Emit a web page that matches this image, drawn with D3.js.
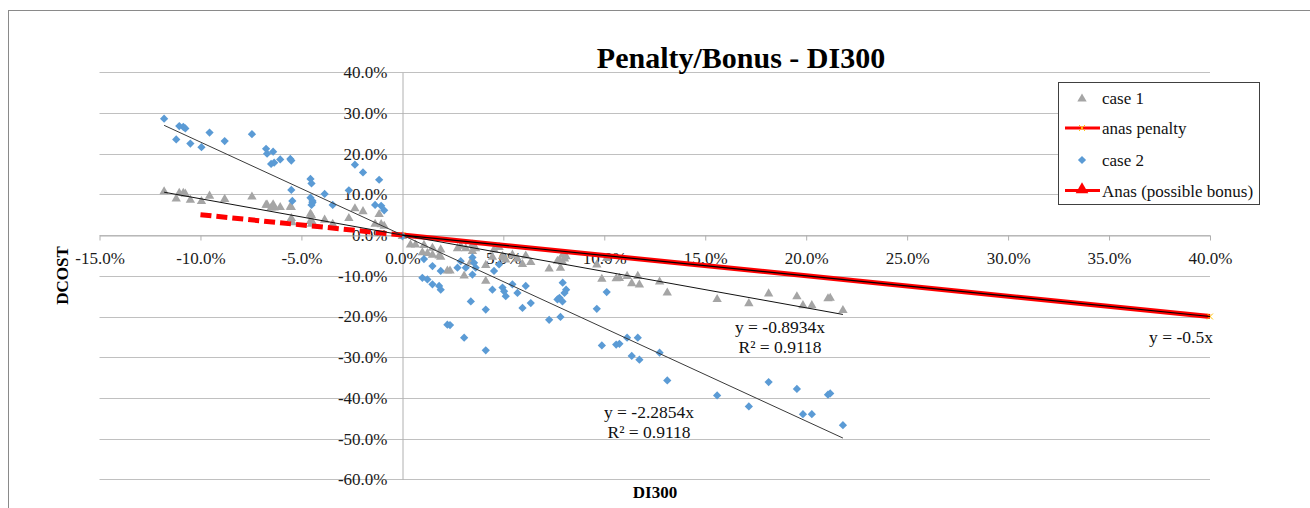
<!DOCTYPE html>
<html>
<head>
<meta charset="utf-8">
<script src="https://cdn.jsdelivr.net/npm/d3@7"></script>
<style>
  html, body { margin: 0; padding: 0; background: #fff; }
  svg { display: block; font-family: "Liberation Serif", "Times New Roman", serif; }
</style>
</head>
<body>
<svg id="chart" width="1310" height="508"></svg>
<script>
// DI300 (%) shared by both cases
const di300 = [
  -11.8, -11.2, -11.05, -10.85, -10.75, -10.5, -9.95, -9.55, -8.8, -7.45,
  -6.75, -6.7, -6.4, -6.5, -6.35, -6.05, -5.55, -5.5, -5.5, -5.45,
  -4.55, -4.5, -4.55, -4.45, -4.5, -4.45, -3.85, -3.45, -2.65, -2.35,
  -1.95, -1.15, -1.35, -1.05, -0.9, 0.0,
  0.4, 0.65, 1.07, 0.99, 1.24, 1.49, 1.49, 1.82, 1.9, 1.9,
  2.23, 2.36, 2.73, 2.89, 3.06, 3.14, 3.39, 3.47, 3.55, 3.63,
  3.47, 4.13, 4.13, 4.54, 4.46, 4.79, 4.96, 5.04, 5.12, 5.45,
  5.7, 6.11, 5.95, 6.36, 7.27, 7.68,
  7.94, 8.11, 8.03, 7.78, 7.83, 7.93, 9.63, 10.12, 9.88, 10.59,
  10.75, 11.13, 11.66, 11.36, 11.74, 12.74, 13.12, 15.59, 17.16, 18.14,
  19.54, 19.84, 20.28, 21.08, 21.19, 21.82
];

// DCOST (%) for case 1
const case1 = [
  10.9, 9.1, 10.5, 10.5, 10.3, 8.8, 8.5, 9.8, 9.0, 9.6,
  7.6, 7.6, 7.7, 6.9, 6.9, 7.0, 7.1, 7.0, 4.3, 3.3,
  5.4, 5.0, 3.6, 3.1, 2.9, 3.3, 3.9, 2.9, 4.3, 6.7,
  6.0, 5.3, 2.9, 2.8, 2.4, -0.1,
  -2.2, -2.2, -2.3, -4.1, -4.3, -3.0, -4.7, -4.9, -5.2, -3.4,
  -8.6, -8.6, -3.1, -2.5, -9.8, -3.1, -6.4, -2.2, -2.7, -3.1,
  -3.8, -7.2, -11.1, -3.4, -5.2, -2.8, -5.0, -5.4, -5.9, -4.7,
  -5.6, -4.9, -7.0, -6.5, -8.1, -6.2,
  -4.7, -5.1, -5.6, -6.0, -7.9, -6.4, -7.1, -5.5, -10.6, -10.5,
  -10.4, -9.9, -9.9, -11.7, -12.0, -11.3, -14.0, -15.6, -16.6, -14.2,
  -14.9, -17.1, -17.1, -15.4, -15.3, -18.3
];

// DCOST (%) for case 2 (null where no point is plotted)
const case2 = [
  28.6, 23.5, 26.8, 26.6, 26.2, 22.5, 21.6, 25.2, 23.1, 24.8,
  21.2, 20.0, 20.5, 17.5, 17.8, 18.6, 18.7, 18.3, 11.1, 8.4,
  13.8, 12.7, 9.2, 8.0, 7.4, 8.4, 10.1, 7.4, 11.0, 17.3,
  15.4, 13.6, 7.4, 7.2, 6.1, -0.25,
  null, null, -5.9, -10.5, -10.9, -7.6, -12.1, -12.5, -13.4, -8.8,
  -22.0, -22.1, -8.0, -6.4, -25.2, -8.0, -16.3, -5.5, -6.8, -8.0,
  -9.7, -18.3, -28.3, -8.8, -13.4, -7.2, -12.9, -13.8, -15.0, -12.1,
  -14.2, -12.5, -17.9, -16.7, -20.8, -15.8,
  -11.7, -13.4, -14.2, -15.4, -20.1, -16.3, -18.1, -14.0, -27.1, -26.9,
  -26.7, -25.2, -25.2, -29.7, -30.6, -28.9, -35.7, -39.4, -42.1, -36.1,
  -37.8, -44.0, -44.0, -39.2, -38.9, -46.7
];

// Anas reference lines
const anasPenaltyX = [0, 40];
const anasPenaltyY = [0, -20];
const anasBonusX = [-10, 0];
const anasBonusY = [5, 0];

// Linear trendlines through the origin
const case1Slope = -0.8934;
const case2Slope = -2.2854;
const penaltySlope = -0.5;
const rSquared = 0.9118;

// Axis ticks
const xTicks = [-15, -10, -5, 0, 5, 10, 15, 20, 25, 30, 35, 40];
const yTicks = [40, 30, 20, 10, 0, -10, -20, -30, -40, -50, -60];

const fmt = d => d.toFixed(1) + "%";

const svg = d3.select("#chart");

// chart area frame
svg.append("rect")
  .attr("x", 8.5).attr("y", 10.5)
  .attr("width", 1400).attr("height", 600)
  .attr("fill", "#fff").attr("stroke", "#8a8a8a").attr("stroke-width", 1);

const x = d3.scaleLinear().domain([-15, 40]).range([99.5, 1210]);
const y = d3.scaleLinear().domain([40, -60]).range([72.3, 479.3]);

const gridColor = "#c0c0c0";

// horizontal gridlines
svg.append("g")
  .selectAll("line")
  .data(yTicks)
  .join("line")
  .attr("x1", x(-15)).attr("x2", x(40))
  .attr("y1", d => Math.round(y(d)) + 0.5)
  .attr("y2", d => Math.round(y(d)) + 0.5)
  .attr("stroke", gridColor).attr("stroke-width", 1);

// vertical axis (crossing at x = 0)
const yAxis = svg.append("g")
  .attr("transform", `translate(${Math.round(x(0)) + 0.5},0)`)
  .call(d3.axisLeft(y).tickValues(yTicks).tickFormat(fmt)
    .tickSizeInner(0).tickSizeOuter(0).tickPadding(15));
yAxis.select(".domain").attr("stroke", "#b0b0b0");
yAxis.selectAll("text")
  .attr("font-size", 17).attr("fill", "#1a1a1a")
  .attr("font-family", "Liberation Serif, Times New Roman, serif");

// horizontal axis (crossing at y = 0)
const xAxis = svg.append("g")
  .attr("transform", `translate(0,${Math.round(y(0)) + 0.5})`)
  .call(d3.axisBottom(x).tickValues(xTicks).tickFormat(fmt)
    .tickSizeInner(5).tickSizeOuter(0).tickPadding(11));
xAxis.select(".domain").attr("stroke", "#b0b0b0");
xAxis.selectAll(".tick line").attr("stroke", "#b0b0b0");
xAxis.selectAll("text")
  .attr("font-size", 17).attr("fill", "#1a1a1a")
  .attr("font-family", "Liberation Serif, Times New Roman, serif");

const line = d3.line().x(d => x(d[0])).y(d => y(d[1]));

// case 1 markers (grey triangles)
const tri = d3.symbol().type(d3.symbolTriangle).size(38);
svg.append("g")
  .selectAll("path")
  .data(di300.map((d, i) => [d, case1[i]]))
  .join("path")
  .attr("d", tri)
  .attr("transform", d => `translate(${x(d[0])},${y(d[1]) + 0.8})`)
  .attr("fill", "#a5a5a5");

// anas penalty line
svg.append("path")
  .datum(anasPenaltyX.map((d, i) => [d, anasPenaltyY[i]]))
  .attr("d", line)
  .attr("fill", "none").attr("stroke", "#ff0000").attr("stroke-width", 5);

// anas penalty markers (x)
const cross = d3.symbol().type(d3.symbolX).size(24);
svg.append("g")
  .selectAll("path")
  .data(anasPenaltyX.map((d, i) => [d, anasPenaltyY[i]]))
  .join("path")
  .attr("d", cross)
  .attr("transform", d => `translate(${x(d[0])},${y(d[1])})`)
  .attr("fill", "none").attr("stroke", "#ffc000").attr("stroke-width", 1);

// case 2 markers (blue diamonds)
const sq = d3.symbol().type(d3.symbolSquare).size(34);
svg.append("g")
  .selectAll("path")
  .data(di300.map((d, i) => [d, case2[i]]).filter(d => d[1] !== null))
  .join("path")
  .attr("d", sq)
  .attr("transform", d => `translate(${x(d[0])},${y(d[1])}) rotate(45)`)
  .attr("fill", "#5b9bd5");

// Anas possible bonus (dashed)
svg.append("path")
  .datum(anasBonusX.map((d, i) => [d, anasBonusY[i]]))
  .attr("d", line)
  .attr("fill", "none").attr("stroke", "#ff0000").attr("stroke-width", 5)
  .attr("stroke-dasharray", "11,5");

// trendlines
const ext = d3.extent(di300);
const trend = (slope, from, to) => [[from, slope * from], [to, slope * to]];
svg.append("path").datum(trend(case1Slope, ext[0], ext[1]))
  .attr("d", line).attr("fill", "none").attr("stroke", "#111").attr("stroke-width", 1);
svg.append("path").datum(trend(case2Slope, ext[0], ext[1]))
  .attr("d", line).attr("fill", "none").attr("stroke", "#3a3a3a").attr("stroke-width", 1);
svg.append("path").datum(trend(penaltySlope, d3.min(anasPenaltyX), d3.max(anasPenaltyX)))
  .attr("d", line).attr("fill", "none").attr("stroke", "#000").attr("stroke-width", 1.2);

// trendline equations
const eq = (slope) => `y = ${slope}x`;
const labels = svg.append("g")
  .attr("font-size", 17.5).attr("fill", "#111").attr("text-anchor", "middle");
labels.append("text").attr("x", 780).attr("y", 333).text(eq(case1Slope));
labels.append("text").attr("x", 780).attr("y", 353).text(`R² = ${rSquared}`);
labels.append("text").attr("x", 649).attr("y", 418).text(eq(case2Slope));
labels.append("text").attr("x", 649).attr("y", 438).text(`R² = ${rSquared}`);
labels.append("text").attr("x", 1181).attr("y", 343).text(eq(penaltySlope));

// title
svg.append("text")
  .attr("x", 741).attr("y", 68)
  .attr("text-anchor", "middle")
  .attr("font-size", 30).attr("font-weight", "bold").attr("fill", "#000")
  .text("Penalty/Bonus - DI300");

// axis titles
svg.append("text")
  .attr("x", 655).attr("y", 498)
  .attr("text-anchor", "middle")
  .attr("font-size", 17).attr("font-weight", "bold").attr("fill", "#000")
  .text("DI300");
svg.append("text")
  .attr("transform", "translate(68,275.5) rotate(-90)")
  .attr("text-anchor", "middle")
  .attr("font-size", 17).attr("font-weight", "bold").attr("fill", "#000")
  .text("DCOST");

// legend
const lg = svg.append("g");
lg.append("rect")
  .attr("x", 1058.5).attr("y", 82.5).attr("width", 201).attr("height", 122)
  .attr("fill", "#fff").attr("stroke", "#404040").attr("stroke-width", 1);
const legendItems = [
  { label: "case 1", y: 98 },
  { label: "anas penalty", y: 128 },
  { label: "case 2", y: 160 },
  { label: "Anas (possible bonus)", y: 190.5 }
];
lg.selectAll("text.lbl")
  .data(legendItems)
  .join("text")
  .attr("class", "lbl")
  .attr("x", 1102).attr("y", d => d.y + 6)
  .attr("font-size", 17).attr("fill", "#111")
  .text(d => d.label);
// case 1 symbol
lg.append("path").attr("d", tri).attr("fill", "#a5a5a5")
  .attr("transform", `translate(1082,${legendItems[0].y + 0.8})`);
// anas penalty symbol
lg.append("line").attr("x1", 1065).attr("x2", 1100)
  .attr("y1", legendItems[1].y).attr("y2", legendItems[1].y)
  .attr("stroke", "#ff0000").attr("stroke-width", 3);
lg.append("path").attr("d", cross).attr("fill", "none")
  .attr("stroke", "#ffc000").attr("stroke-width", 1)
  .attr("transform", `translate(1082,${legendItems[1].y})`);
// case 2 symbol
lg.append("path").attr("d", sq).attr("fill", "#5b9bd5")
  .attr("transform", `translate(1082,${legendItems[2].y}) rotate(45)`);
// Anas possible bonus symbol
lg.append("line").attr("x1", 1065).attr("x2", 1100)
  .attr("y1", legendItems[3].y).attr("y2", legendItems[3].y)
  .attr("stroke", "#ff0000").attr("stroke-width", 3);
lg.append("path").attr("d", d3.symbol().type(d3.symbolTriangle).size(70))
  .attr("fill", "#ff0000")
  .attr("transform", `translate(1082,${legendItems[3].y - 1})`);
</script>
</body>
</html>
